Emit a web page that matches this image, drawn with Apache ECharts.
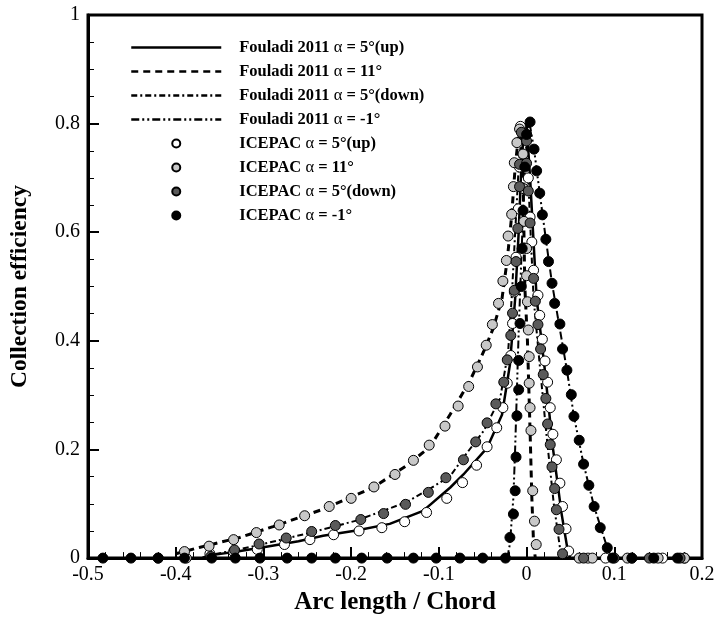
<!DOCTYPE html>
<html>
<head>
<meta charset="utf-8">
<script src="https://cdn.jsdelivr.net/npm/echarts@6/dist/echarts.min.js"></script>
<style>
  html, body { margin: 0; padding: 0; background: #fff; }
  #chart { width: 718px; height: 620px; }
</style>
</head>
<body>
<div id="chart"></div>
<script>
// legend names
const seriesNames = [
  'Fouladi 2011 α = 5°(up)',
  'Fouladi 2011 α = 11°',
  'Fouladi 2011 α = 5°(down)',
  'Fouladi 2011 α = -1°',
  'ICEPAC α = 5°(up)',
  'ICEPAC α = 11°',
  'ICEPAC α = 5°(down)',
  'ICEPAC α = -1°'
];

// Fouladi 2011 curves (x = arc length / chord, y = collection efficiency)
const fUpX = [-0.37, -0.361, -0.33, -0.300, -0.26, -0.232, -0.194, -0.156, -0.118, -0.087, -0.072, -0.045, -0.028, -0.019, -0.013, -0.009, -0.006, -0.003, 0.0, 0.004, 0.0115, 0.021, 0.030, 0.040, 0.0475, 0.05];
const fUpY = [0, 0.005, 0.012, 0.020, 0.031, 0.041, 0.051, 0.063, 0.087, 0.13, 0.154, 0.203, 0.264, 0.356, 0.478, 0.60, 0.72, 0.79, 0.80, 0.70, 0.478, 0.344, 0.203, 0.081, 0.008, 0];

const f11X = [-0.40, -0.372, -0.327, -0.289, -0.232, -0.175, -0.137, -0.110, -0.087, -0.065, -0.049, -0.038, -0.028, -0.022, -0.017, -0.013, -0.009, -0.006, -0.004, -0.002, 0.001, 0.004, 0.006, 0.008, 0.010];
const f11Y = [0.008, 0.02, 0.038, 0.058, 0.09, 0.13, 0.17, 0.205, 0.265, 0.325, 0.38, 0.423, 0.478, 0.55, 0.63, 0.72, 0.78, 0.78, 0.70, 0.50, 0.40, 0.234, 0.112, 0.026, 0];

const fDownX = [-0.37, -0.365, -0.308, -0.251, -0.194, -0.137, -0.110, -0.087, -0.072, -0.049, -0.030, -0.021, -0.017, -0.013, -0.009, -0.005, 0.0, 0.004, 0.008, 0.015, 0.023, 0.031, 0.039, 0.041];
const fDownY = [0, 0.004, 0.023, 0.045, 0.069, 0.103, 0.128, 0.151, 0.185, 0.234, 0.295, 0.38, 0.478, 0.60, 0.72, 0.79, 0.77, 0.62, 0.478, 0.356, 0.222, 0.10, 0.008, 0];

const fM1X = [-0.022, -0.019, -0.015, -0.013, -0.009, -0.006, -0.003, 0.0, 0.003, 0.0085, 0.015, 0.022, 0.029, 0.036, 0.046, 0.054, 0.065, 0.077, 0.092, 0.097];
const fM1Y = [0, 0.026, 0.112, 0.203, 0.417, 0.55, 0.68, 0.77, 0.805, 0.753, 0.672, 0.587, 0.506, 0.44, 0.346, 0.261, 0.173, 0.095, 0.019, 0];

// ICEPAC points
const iUpX = [-0.388, -0.361, -0.334, -0.307, -0.276, -0.247, -0.220, -0.191, -0.165, -0.139, -0.114, -0.091, -0.073, -0.057, -0.045, -0.034, -0.027, -0.022, -0.018, -0.016, -0.014, -0.012, -0.0095, -0.008, -0.007, 0.0, 0.002, 0.004, 0.006, 0.008, 0.013, 0.015, 0.018, 0.021, 0.024, 0.027, 0.030, 0.034, 0.038, 0.041, 0.045, 0.048, 0.07, 0.09, 0.12, 0.155, 0.18];
const iUpY = [0, 0.008, 0.012, 0.016, 0.025, 0.034, 0.043, 0.050, 0.056, 0.067, 0.084, 0.110, 0.139, 0.171, 0.205, 0.24, 0.277, 0.322, 0.373, 0.432, 0.49, 0.554, 0.643, 0.72, 0.795, 0.78, 0.70, 0.628, 0.582, 0.53, 0.484, 0.447, 0.403, 0.363, 0.324, 0.277, 0.228, 0.181, 0.138, 0.095, 0.054, 0.013, 0, 0, 0, 0, 0];

const i11X = [-0.42, -0.390, -0.362, -0.334, -0.308, -0.282, -0.253, -0.225, -0.200, -0.174, -0.150, -0.129, -0.111, -0.093, -0.078, -0.066, -0.056, -0.046, -0.039, -0.032, -0.027, -0.023, -0.021, -0.017, -0.015, -0.014, -0.011, -0.008, -0.004, -0.003, -0.003, 0.0, 0.0, 0.001, 0.002, 0.003, 0.003, 0.004, 0.005, 0.007, 0.009, 0.011, 0.06, 0.075, 0.115, 0.15, 0.18];
const i11Y = [0, 0.012, 0.022, 0.034, 0.047, 0.061, 0.078, 0.095, 0.110, 0.131, 0.154, 0.180, 0.208, 0.243, 0.280, 0.316, 0.352, 0.392, 0.430, 0.469, 0.51, 0.548, 0.593, 0.633, 0.684, 0.728, 0.765, 0.79, 0.744, 0.68, 0.62, 0.57, 0.52, 0.472, 0.42, 0.371, 0.322, 0.277, 0.235, 0.124, 0.068, 0.025, 0, 0, 0, 0, 0];

const iDownX = [-0.36, -0.333, -0.305, -0.274, -0.245, -0.218, -0.189, -0.163, -0.138, -0.112, -0.092, -0.072, -0.058, -0.045, -0.035, -0.026, -0.022, -0.018, -0.016, -0.014, -0.012, -0.010, -0.008, -0.008, -0.006, 0.0, 0.0, 0.002, 0.004, 0.008, 0.010, 0.013, 0.016, 0.019, 0.022, 0.024, 0.027, 0.029, 0.032, 0.034, 0.037, 0.041, 0.065, 0.10, 0.14, 0.175];
const iDownY = [0.003, 0.015, 0.026, 0.037, 0.049, 0.060, 0.071, 0.082, 0.099, 0.121, 0.148, 0.181, 0.214, 0.249, 0.284, 0.324, 0.365, 0.41, 0.451, 0.493, 0.546, 0.607, 0.684, 0.725, 0.784, 0.768, 0.727, 0.676, 0.617, 0.515, 0.473, 0.43, 0.385, 0.338, 0.294, 0.247, 0.209, 0.168, 0.128, 0.089, 0.053, 0.008, 0, 0, 0, 0];

const iM1X = [-0.483, -0.451, -0.420, -0.390, -0.359, -0.332, -0.304, -0.273, -0.245, -0.218, -0.188, -0.159, -0.129, -0.103, -0.076, -0.050, -0.024, -0.019, -0.015, -0.013, -0.012, -0.011, -0.009, -0.009, -0.0075, -0.006, -0.005, -0.004, -0.002, 0.000, 0.004, 0.0085, 0.0115, 0.015, 0.018, 0.022, 0.025, 0.029, 0.032, 0.038, 0.041, 0.046, 0.051, 0.054, 0.060, 0.065, 0.071, 0.077, 0.084, 0.092, 0.098, 0.12, 0.145, 0.172];
const iM1Y = [0, 0, 0, 0, 0, 0, 0, 0, 0, 0, 0, 0, 0, 0, 0, 0, 0, 0.038, 0.081, 0.124, 0.186, 0.262, 0.31, 0.364, 0.432, 0.50, 0.57, 0.64, 0.72, 0.78, 0.803, 0.753, 0.713, 0.672, 0.632, 0.587, 0.546, 0.506, 0.469, 0.431, 0.385, 0.346, 0.301, 0.261, 0.217, 0.173, 0.134, 0.095, 0.056, 0.019, 0, 0, 0, 0];

function zip(xs, ys) {
  return xs.map((x, i) => [x, ys[i]]);
}

const chart = echarts.init(document.getElementById('chart'));

function lineSeries(name, xs, ys, type, width) {
  return {
    name: name,
    type: 'line',
    data: zip(xs, ys),
    symbol: 'none',
    z: 2,
    lineStyle: { color: '#000', width: width, type: type },
    itemStyle: { color: '#000' }
  };
}

function dotSeries(name, xs, ys, fill) {
  return {
    name: name,
    type: 'scatter',
    data: zip(xs, ys),
    symbol: 'circle',
    symbolSize: 10,
    z: 3,
    itemStyle: { color: fill, borderColor: '#000', borderWidth: 1, opacity: 1 }
  };
}

const serif = '"Liberation Serif", "Times New Roman", serif';

// legend: line entries without the marker dot
const legendData = seriesNames.map((name, i) => {
  if (i < 4) {
    return {
      name: name,
      itemStyle: { color: 'rgba(0,0,0,0)', borderColor: 'rgba(0,0,0,0)', borderWidth: 0 },
      lineStyle: { width: 2.5 }
    };
  }
  return { name: name, icon: 'circle' };
});

const option = {
  animation: false,
  backgroundColor: '#fff',
  grid: {
    left: 88, right: 16, top: 15, bottom: 59,
    show: true, borderColor: '#000', borderWidth: 3, backgroundColor: 'transparent'
  },
  legend: {
    orient: 'vertical',
    left: 130, top: 39,
    padding: 0,
    itemWidth: 90, itemHeight: 8, itemGap: 7,
    symbolKeepAspect: true,
    data: legendData,
    formatter: function (name) {
      const parts = name.split('α');
      return '{b|' + parts[0] + '}{a|α}{b|' + parts[1] + '}';
    },
    textStyle: {
      padding: [0, 0, 0, 13],
      lineHeight: 17,
      rich: {
        b: { fontFamily: serif, fontWeight: 'bold', fontSize: 16.5, color: '#000', lineHeight: 17 },
        a: { fontFamily: serif, fontWeight: 'normal', fontSize: 16.5, color: '#000', lineHeight: 17 }
      }
    }
  },
  xAxis: {
    type: 'value',
    min: -0.5, max: 0.2, interval: 0.1,
    name: 'Arc length / Chord',
    nameLocation: 'middle',
    nameGap: 28,
    nameTextStyle: { fontFamily: serif, fontWeight: 'bold', fontSize: 25, color: '#000' },
    axisLine: { show: true, onZero: false, lineStyle: { color: '#000', width: 3 } },
    axisTick: { show: true, inside: true, length: 11, lineStyle: { color: '#000', width: 2 } },
    minorTick: { show: true, splitNumber: 5, length: 6, lineStyle: { color: '#000', width: 1 } },
    axisLabel: { fontFamily: serif, fontSize: 20, color: '#000', margin: 7 },
    splitLine: { show: false }
  },
  yAxis: {
    type: 'value',
    min: 0, max: 1, interval: 0.2,
    name: 'Collection efficiency',
    nameLocation: 'middle',
    nameGap: 56,
    nameRotate: 90,
    nameTextStyle: { fontFamily: serif, fontWeight: 'bold', fontSize: 23.5, color: '#000' },
    axisLine: { show: true, onZero: false, lineStyle: { color: '#000', width: 3 } },
    axisTick: { show: true, inside: true, length: 11, lineStyle: { color: '#000', width: 2 } },
    minorTick: { show: true, splitNumber: 4, length: 6, lineStyle: { color: '#000', width: 1 } },
    axisLabel: { fontFamily: serif, fontSize: 20, color: '#000', margin: 8 },
    splitLine: { show: false }
  },
  series: [
    lineSeries(seriesNames[0], fUpX, fUpY, 'solid', 2.5),
    lineSeries(seriesNames[1], f11X, f11Y, [7, 5], 3),
    lineSeries(seriesNames[2], fDownX, fDownY, [6, 3, 2, 3], 2),
    lineSeries(seriesNames[3], fM1X, fM1Y, [8, 3, 2, 3, 2, 3], 2),
    dotSeries(seriesNames[4], iUpX, iUpY, '#ffffff'),
    dotSeries(seriesNames[5], i11X, i11Y, '#c8c8c8'),
    dotSeries(seriesNames[6], iDownX, iDownY, '#5a5a5a'),
    dotSeries(seriesNames[7], iM1X, iM1Y, '#000000')
  ]
};

chart.setOption(option);
</script>
</body>
</html>
